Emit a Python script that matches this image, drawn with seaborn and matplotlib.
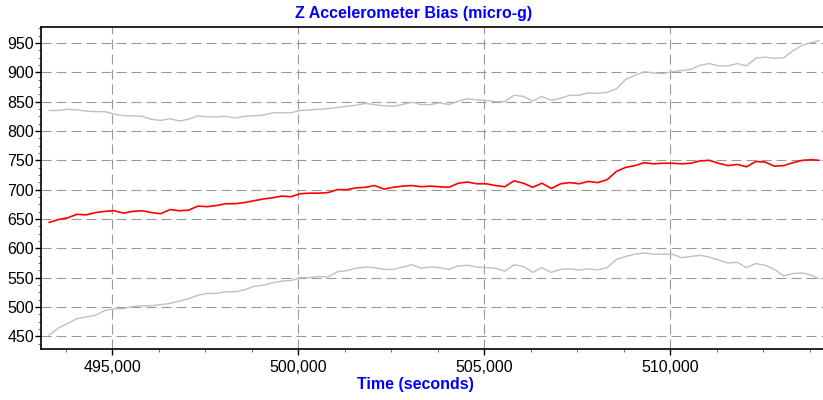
import pandas as pd
import seaborn as sns
import matplotlib.pyplot as plt
from matplotlib.ticker import MultipleLocator, FuncFormatter

# Time stamps (seconds) and bias estimates
time_s = list(range(493300, 513801, 250)) + [514000]

upper_bound = [
    835, 835, 837, 836, 834, 833, 833, 829, 826, 826, 825, 820, 818, 821, 817,
    820, 826, 824, 824, 825, 822, 825, 826, 827, 831, 831, 831, 835, 836,
    837, 838, 840, 842, 844, 847, 845, 843, 842, 845, 849, 845, 845, 848, 845,
    851, 855, 853, 852, 850, 850, 861, 859, 851, 859, 852, 856, 861,
    861, 865, 864, 866, 872, 888, 895, 901, 899, 898, 901, 903, 905, 912, 915,
    911, 911, 915, 911, 924, 926, 924, 925, 937, 946, 951, 954,
]

bias_estimate = [
    644, 649, 652, 658, 657, 661, 663, 664, 660, 663, 664, 661, 659, 666, 664,
    665, 672, 671, 673, 676, 676, 678, 681, 684, 686, 689, 688, 693, 694,
    694, 695, 700, 700, 703, 704, 707, 701, 704, 706, 707, 705, 706, 705, 704,
    711, 713, 710, 710, 707, 705, 715, 711, 704, 711, 702, 710, 712,
    710, 714, 712, 717, 731, 738, 741, 746, 744, 745, 745, 744, 745, 749, 750,
    745, 741, 743, 739, 748, 747, 740, 741, 746, 750, 751, 750,
]

lower_bound = [
    452, 464, 472, 480, 483, 486, 494, 497, 497, 501, 502, 502, 504, 506, 510,
    514, 520, 523, 523, 526, 526, 529, 535, 537, 541, 544, 545, 550, 550,
    552, 551, 560, 562, 566, 568, 567, 564, 564, 568, 572, 566, 568, 567, 564,
    570, 571, 568, 567, 566, 561, 572, 569, 559, 567, 559, 564, 565,
    563, 565, 563, 567, 581, 586, 590, 592, 590, 590, 590, 584, 586, 588, 585,
    580, 575, 576, 567, 574, 571, 564, 553, 557, 558, 554, 548,
]

df = pd.DataFrame({"time": time_s, "upper": upper_bound,
                   "bias": bias_estimate, "lower": lower_bound})

sns.set_style("white")
plt.rcParams["font.family"] = ["Liberation Sans", "DejaVu Sans"]

fig = plt.figure(figsize=(8.23, 4.0), dpi=100)
ax = fig.add_axes([41 / 823, 1 - 349.3 / 400, 782 / 823, 322 / 400])

sns.lineplot(data=df, x="time", y="upper", color="#c0c0c0", linewidth=1.0, ax=ax)
sns.lineplot(data=df, x="time", y="lower", color="#c0c0c0", linewidth=1.0, ax=ax)
sns.lineplot(data=df, x="time", y="bias", color="#ff0000", linewidth=1.2, ax=ax)

ax.set_xlim(493083, 514105)
ax.set_ylim(427.8, 976.8)

ax.xaxis.set_major_locator(MultipleLocator(5000))
ax.xaxis.set_minor_locator(MultipleLocator(1250))
ax.yaxis.set_major_locator(MultipleLocator(50))
ax.yaxis.set_minor_locator(MultipleLocator(12.5))
ax.xaxis.set_major_formatter(FuncFormatter(lambda v, p: f"{v:,.0f}"))

# dashed grid, roughly 8px on / 4px off
ax.grid(True, which="major", color="#999999", linewidth=0.8,
        linestyle=(0, (9, 4.5)))
ax.set_axisbelow(True)

ax.tick_params(axis="both", which="major", direction="out", length=4, width=1,
               labelsize=11.5, colors="black", bottom=True, left=True)
ax.tick_params(axis="both", which="minor", direction="out", length=2, width=0.6,
               colors="#555555", bottom=True, left=True)
ax.tick_params(axis="y", which="major", pad=1)

for side in ["left", "bottom", "top"]:
    ax.spines[side].set_color("black")
    ax.spines[side].set_linewidth(1.2)
ax.spines["right"].set_visible(False)

ax.set_xlabel("")
ax.set_ylabel("")
fig.text(0.503, 0.967, "Z Accelerometer Bias (micro-g)", ha="center",
         va="center", color="#0000ff", fontsize=11.5, fontweight="bold")
fig.text(0.505, 0.038, "Time (seconds)", ha="center", va="center",
         color="#0000ff", fontsize=11.5, fontweight="bold")

plt.savefig("out.png", dpi=100)
